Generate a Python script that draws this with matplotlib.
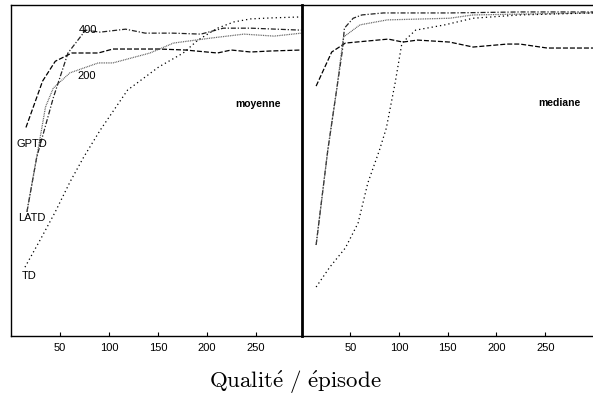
import matplotlib
matplotlib.use("Agg")
import matplotlib.pyplot as plt

# ---------------- data (episode, quality) ----------------
# Left panel: moyenne
moy_gptd_x = [15, 32, 45, 62, 89, 104, 122, 151, 178, 211, 225, 245, 265, 297]
moy_gptd_y = [63, 77, 83, 85.5, 85.5, 86.7, 86.7, 86.7, 86.4, 85.5, 86.4, 85.8, 86.1, 86.4]

moy_latd400_x = [16, 26, 43, 58, 76, 91, 117, 137, 165, 194, 217, 245, 271, 297]
moy_latd400_y = [37.5, 54, 72, 85.5, 92.4, 91.8, 92.7, 91.5, 91.5, 91.2, 93, 93, 92.7, 92.4]

moy_latd200_x = [16, 26, 35, 43, 60, 89, 104, 142, 166, 204, 238, 269, 297]
moy_latd200_y = [37.5, 54, 69.2, 74.9, 79.5, 82.5, 82.5, 85.5, 88.5, 90, 91.2, 90.6, 91.5]

moy_td_x = [14, 29.5, 45, 60, 74, 91, 119, 151, 176, 191, 211, 228, 245, 266, 297]
moy_td_y = [20.8, 29, 37.5, 46.5, 54, 62.2, 74.3, 81.3, 85.5, 89.4, 93, 94.9, 95.8, 96.1, 96.4]

# Right panel: mediane
med_gptd_x = [15, 31, 45, 67, 89, 104, 119, 152, 176, 211, 224, 252, 299]
med_gptd_y = [75.5, 85.8, 88.5, 89.1, 89.7, 88.8, 89.4, 88.8, 87.3, 88.2, 88.2, 87, 87]

med_latd400_x = [15, 27, 36, 42, 44, 53, 62, 84, 152, 224, 299]
med_latd400_y = [27.5, 56.2, 74.3, 86.4, 93, 96, 97, 97.6, 97.6, 97.9, 97.9]

med_latd200_x = [15, 27, 36, 43, 60, 88, 152, 176, 235, 299]
med_latd200_y = [27.5, 56.2, 74.3, 90.3, 94, 95.5, 96, 97, 97.3, 97.6]

med_td_x = [15, 29, 45, 58, 68, 80, 87, 96, 103, 117, 147, 176, 224, 299]
med_td_y = [14.8, 20.8, 26.6, 34.1, 46.2, 56.2, 62.8, 76.4, 88.5, 92.4, 94, 96, 97, 97.6]

xticks = [50, 100, 150, 200, 250]

# ---------------- figure ----------------
plt.rcParams['mathtext.fontset'] = 'cm'
fig = plt.figure(figsize=(5.93, 3.96), dpi=100)

W, H = 593.0, 396.0
ax1 = fig.add_axes([11.3 / W, (H - 336) / H, (301.5 - 11.3) / W, (336 - 5) / H])
ax2 = fig.add_axes([301.5 / W, (H - 336) / H, (593 - 301.5) / W, (336 - 5) / H])

styles = {
    'gptd': dict(color='black', lw=0.9, dashes=(4, 1.6)),
    'l400': dict(color='#222222', lw=0.9, dashes=(4, 1.5, 1, 1.5)),
    'l200': dict(color='#555555', lw=0.9, dashes=(0.7, 0.7)),
    'td': dict(color='black', lw=0.9, dashes=(1, 2.4)),
}

ax1.plot(moy_gptd_x, moy_gptd_y, **styles['gptd'])
ax1.plot(moy_latd400_x, moy_latd400_y, **styles['l400'])
ax1.plot(moy_latd200_x, moy_latd200_y, **styles['l200'])
ax1.plot(moy_td_x, moy_td_y, **styles['td'])

ax2.plot(med_gptd_x, med_gptd_y, **styles['gptd'])
ax2.plot(med_latd400_x, med_latd400_y, **styles['l400'])
ax2.plot(med_latd200_x, med_latd200_y, **styles['l200'])
ax2.plot(med_td_x, med_td_y, **styles['td'])

lab_font = dict(family='Liberation Sans', fontsize=8)
for ax, xmax in ((ax1, 297), (ax2, 299)):
    ax.set_xlim(0, xmax)
    ax.set_ylim(0, 100)
    ax.set_xticks(xticks)
    ax.set_xticklabels([str(t) for t in xticks], **lab_font)
    ax.set_yticks([])
    ax.tick_params(axis='x', direction='in', length=3, width=0.8, pad=5)
    for s in ax.spines.values():
        s.set_linewidth(1.0)
    ax.spines['right'].set_visible(False)

ax2.spines['left'].set_linewidth(2.0)

# annotations (left)
ax1.text(21.5, 58, 'GPTD', ha='center', va='center', **lab_font)
ax1.text(20.5, 35.5, 'LATD', ha='center', va='center', **lab_font)
ax1.text(18.5, 18, 'TD', ha='center', va='center', **lab_font)
ax1.text(78.5, 92.5, '400', ha='center', va='center', **lab_font)
ax1.text(77.5, 78.5, '200', ha='center', va='center', **lab_font)
ax1.text(252, 70, 'moyenne', ha='center', va='center', fontweight='bold',
         family='Liberation Sans', fontsize=7.5)
ax2.text(264, 70.5, 'mediane', ha='center', va='center', fontweight='bold',
         family='Liberation Sans', fontsize=7.5)

fig.text(295 / W, 1 - 382 / H, r'$\mathrm{Qualit\acute{e}\ /\ \acute{e}pisode}$',
         ha='center', va='center', fontsize=16.5)

fig.savefig('out.png', dpi=100)
